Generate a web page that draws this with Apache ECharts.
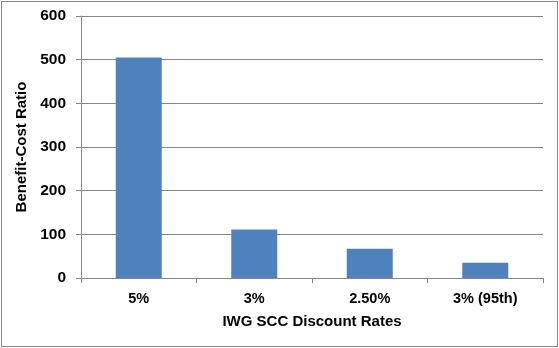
<!DOCTYPE html>
<html><head><meta charset="utf-8">
<script src="https://cdn.jsdelivr.net/npm/echarts@6/dist/echarts.min.js"></script>
<style>html,body{margin:0;padding:0;background:#fff}#c{width:559px;height:348px;position:relative}
#frame{position:absolute;left:1px;top:1px;width:557px;height:346px;border:1px solid #898989;box-sizing:border-box;pointer-events:none}</style>
</head><body><div id="c"></div><div id="frame"></div>
<script>
const categories = ['5%', '3%', '2.50%', '3% (95th)'];
const ratios = [505, 111, 67, 35];
const yTicks = [0, 100, 200, 300, 400, 500, 600];

const chart = echarts.init(document.getElementById('c'));
const font = {fontFamily: 'Liberation Sans, Arial, sans-serif', fontWeight: 'bold', fontSize: 13, color: '#000'};
chart.setOption({
  animation: false,
  grid: {left: 81, right: 16, top: 16, bottom: 70},
  xAxis: {
    type: 'category', data: categories,
    name: 'IWG SCC Discount Rates', nameLocation: 'middle', nameGap: 36,
    nameTextStyle: Object.assign({}, font, {fontSize: 15}),
    axisLine: {lineStyle: {color: '#868686'}},
    axisTick: {show: true, length: 5, lineStyle: {color: '#868686'}},
    axisLabel: Object.assign({margin: 13}, font, {fontSize: 14.5})
  },
  yAxis: {
    type: 'value', min: yTicks[0], max: yTicks[yTicks.length - 1], interval: 100,
    name: 'Benefit-Cost Ratio', nameLocation: 'middle', nameGap: 50,
    nameTextStyle: Object.assign({}, font, {fontSize: 15}),
    axisLine: {show: true, lineStyle: {color: '#868686'}},
    axisTick: {show: true, length: 5, lineStyle: {color: '#868686'}},
    axisLabel: Object.assign({margin: 15}, font, {fontSize: 15.5}),
    splitLine: {lineStyle: {color: '#868686'}}
  },
  series: [{type: 'bar', data: ratios, barWidth: 46, itemStyle: {color: '#4F81BD'}}]
});
</script></body></html>
